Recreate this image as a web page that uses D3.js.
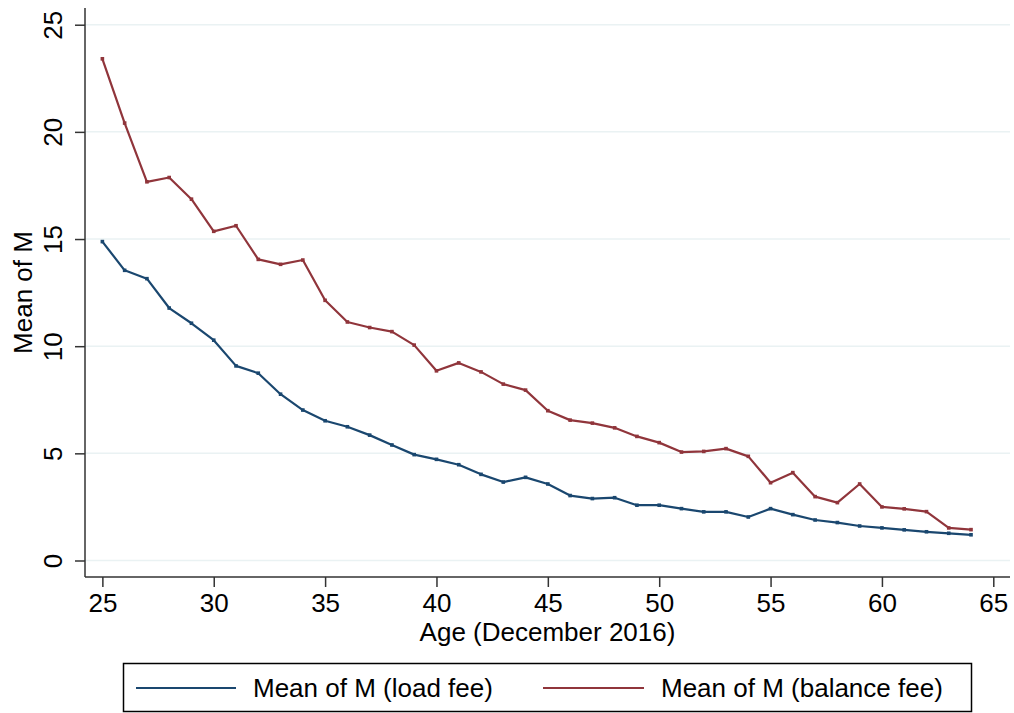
<!DOCTYPE html>
<html>
<head>
<meta charset="utf-8">
<script src="https://cdn.jsdelivr.net/npm/d3@7"></script>
<style>
  html, body { margin: 0; padding: 0; background: #fff; }
  svg { display: block; font-family: "Liberation Sans", Arial, Helvetica, sans-serif; }
</style>
</head>
<body>
<svg id="chart" width="1014" height="713"></svg>
<script>
const ages = d3.range(25, 65);
const loadFee = [14.88, 13.54, 13.15, 11.78, 11.07, 10.28, 9.08, 8.74, 7.76, 7.02,
                 6.52, 6.24, 5.85, 5.39, 4.94, 4.72, 4.47, 4.02, 3.66, 3.88,
                 3.57, 3.03, 2.89, 2.93, 2.58, 2.58, 2.42, 2.27, 2.27, 2.03,
                 2.42, 2.14, 1.89, 1.77, 1.61, 1.52, 1.43, 1.34, 1.27, 1.20];
const balanceFee = [23.41, 20.41, 17.67, 17.87, 16.86, 15.36, 15.62, 14.05, 13.82, 14.02,
                    12.14, 11.13, 10.87, 10.68, 10.05, 8.85, 9.22, 8.80, 8.23, 7.95,
                    6.99, 6.55, 6.41, 6.19, 5.79, 5.50, 5.06, 5.09, 5.22, 4.86,
                    3.63, 4.10, 2.98, 2.70, 3.57, 2.50, 2.41, 2.28, 1.52, 1.44];
const xTicks = [25, 30, 35, 40, 45, 50, 55, 60, 65];
const yTicks = [0, 5, 10, 15, 20, 25];
const seriesNames = ["Mean of M (load fee)", "Mean of M (balance fee)"];
const seriesColors = ["#1a476f", "#90353b"];
const xTitle = "Age (December 2016)";
const yTitle = "Mean of M";

(function () {
const svg = d3.select("#chart");
const pLeft = 85, pRight = 1010, pTop = 8, pBottom = 577;
const x = d3.scaleLinear().domain([24.22, 65.75]).range([pLeft, pRight]);
const y = d3.scaleLinear().domain([-0.77, 25.78]).range([pBottom, pTop]);
const fs = 26;

// grid lines
svg.append("g").selectAll("line").data(yTicks).join("line")
  .attr("x1", pLeft).attr("x2", pRight)
  .attr("y1", d => y(d)).attr("y2", d => y(d))
  .attr("stroke", "#eaf2f3").attr("stroke-width", 1.5);

// y axis
const yAxis = svg.append("g").attr("transform", `translate(${pLeft},0)`)
  .call(d3.axisLeft(y).tickValues(yTicks).tickSize(10).tickPadding(0).tickFormat(d3.format("d")));
yAxis.select(".domain").attr("d", `M0,${pTop}V${pBottom}`).attr("stroke", "#333").attr("stroke-width", 1.5);
yAxis.selectAll(".tick line").attr("stroke", "#333").attr("stroke-width", 1.5);
yAxis.selectAll(".tick text")
  .attr("x", null).attr("dy", null)
  .attr("text-anchor", "middle")
  .attr("transform", "translate(-23,0) rotate(-90)")
  .attr("font-size", fs).attr("fill", "#000")
  .attr("font-family", "Liberation Sans, Arial, sans-serif");

// x axis
const xAxis = svg.append("g").attr("transform", `translate(0,${pBottom})`)
  .call(d3.axisBottom(x).tickValues(xTicks).tickSize(10).tickPadding(0).tickFormat(d3.format("d")));
xAxis.select(".domain").attr("d", `M${pLeft},0H${pRight}`).attr("stroke", "#333").attr("stroke-width", 1.5);
xAxis.selectAll(".tick line").attr("stroke", "#333").attr("stroke-width", 1.5);
xAxis.selectAll(".tick text")
  .attr("y", 35).attr("dy", null)
  .attr("font-size", fs).attr("fill", "#000")
  .attr("font-family", "Liberation Sans, Arial, sans-serif");

// titles
svg.append("text").attr("x", (pLeft + pRight) / 2).attr("y", 641)
  .attr("text-anchor", "middle").attr("font-size", fs).text(xTitle);
svg.append("text").attr("transform", `translate(32,${(pTop + pBottom) / 2}) rotate(-90)`)
  .attr("text-anchor", "middle").attr("font-size", fs).text(yTitle);

// series
const allSeries = [loadFee, balanceFee];
const line = d3.line().x((d, i) => x(ages[i])).y(d => y(d));
allSeries.forEach((vals, k) => {
  svg.append("path").datum(vals)
    .attr("d", line).attr("fill", "none")
    .attr("stroke", seriesColors[k]).attr("stroke-width", 2.2)
    .attr("stroke-linejoin", "round");
  svg.append("g").selectAll("rect").data(vals).join("rect")
    .attr("x", (d, i) => x(ages[i]) - 1.8).attr("y", d => y(d) - 1.8)
    .attr("width", 3.6).attr("height", 3.6)
    .attr("fill", seriesColors[k]);
});

// legend
const lg = svg.append("g");
lg.append("rect").attr("x", 123.5).attr("y", 663.5).attr("width", 848).attr("height", 48)
  .attr("fill", "#fff").attr("stroke", "#000").attr("stroke-width", 1.5);
const legendItems = [
  { x1: 136, x2: 236, tx: 253 },
  { x1: 543, x2: 644, tx: 661 }
];
legendItems.forEach((it, k) => {
  lg.append("line").attr("x1", it.x1).attr("x2", it.x2).attr("y1", 688).attr("y2", 688)
    .attr("stroke", seriesColors[k]).attr("stroke-width", 2.2);
  lg.append("text").attr("x", it.tx).attr("y", 697).attr("font-size", fs)
    .text(seriesNames[k]);
});
})();
</script>
</body>
</html>
